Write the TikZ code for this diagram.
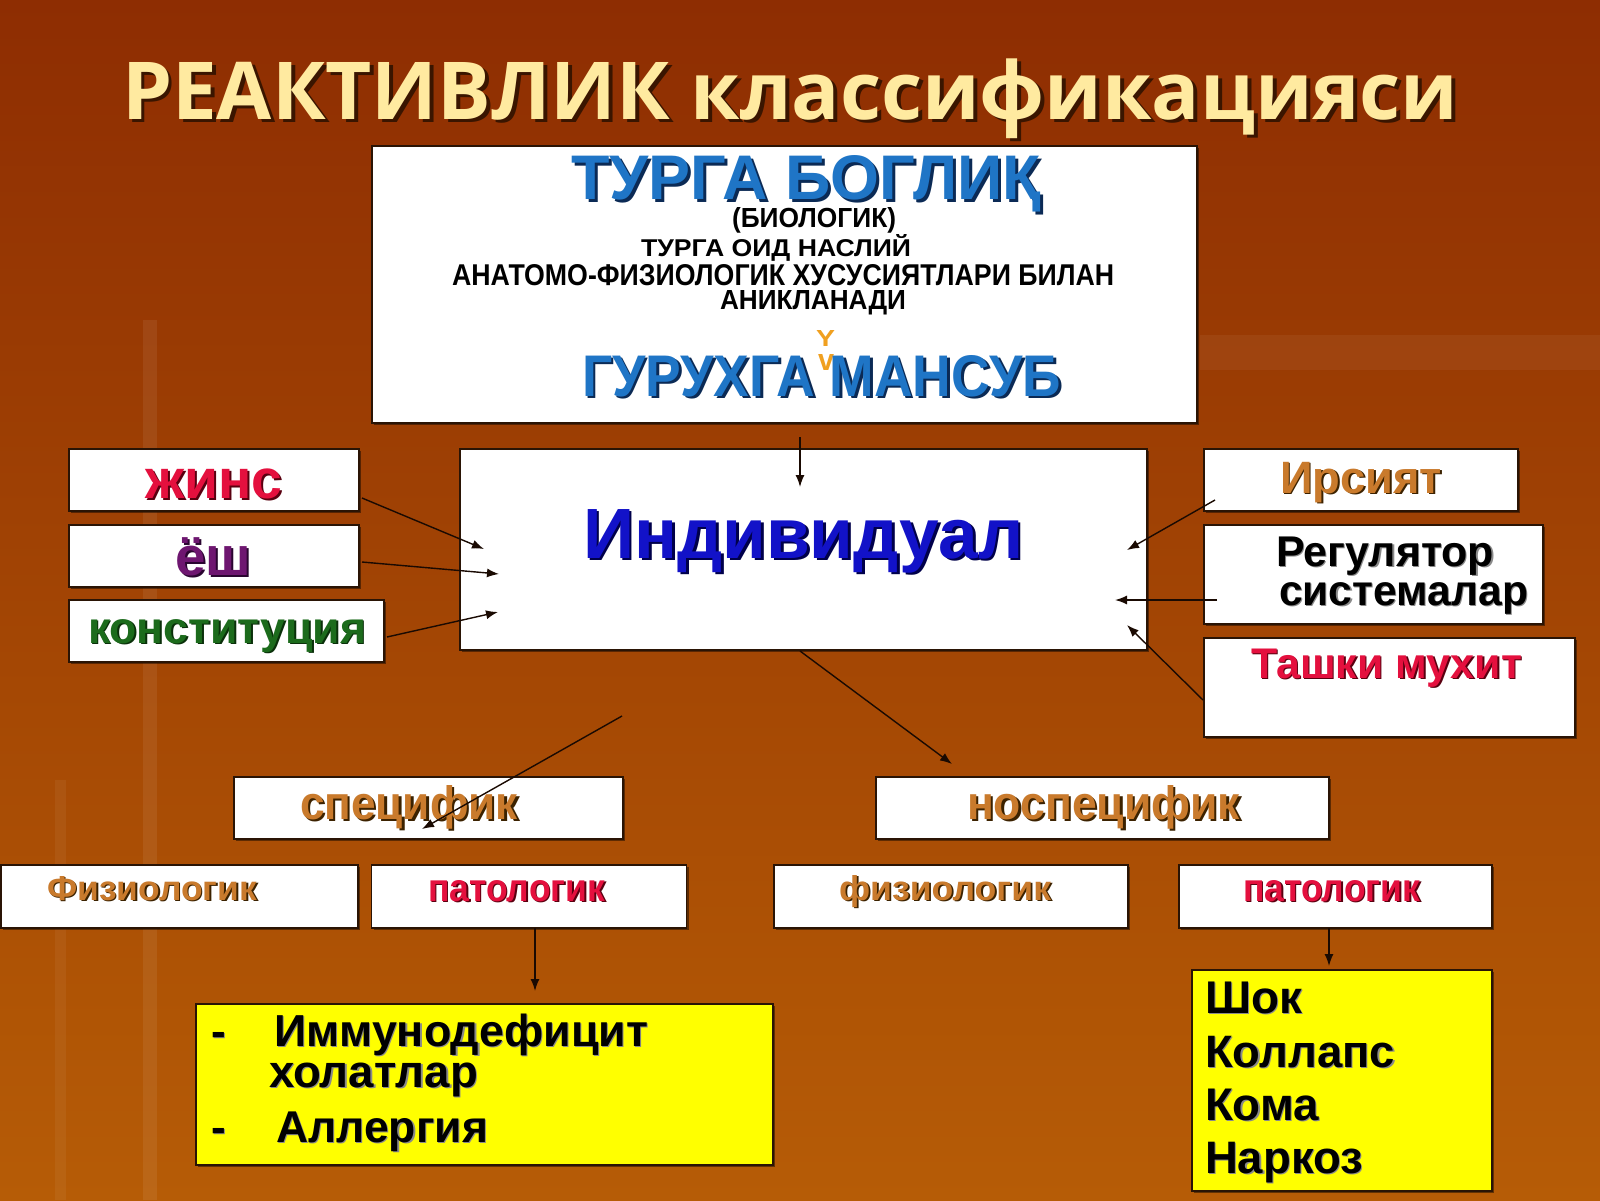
\documentclass[tikz,border=0pt]{standalone}
\usepackage{fontspec}
\usepackage{graphicx}
\setmainfont{Liberation Sans}
\newfontfamily\titlef{Open Sans}
\usetikzlibrary{arrows.meta,shadows}
\definecolor{bgA}{HTML}{8E2D02}
\definecolor{bgB}{HTML}{A94A05}
\definecolor{bgC}{HTML}{B65C06}
\definecolor{cream}{HTML}{FFEAA0}
\definecolor{darksh}{HTML}{3A1500}
\definecolor{blueT}{HTML}{1F75C6}
\definecolor{blueSh}{HTML}{0B2A55}
\definecolor{indBlue}{HTML}{1212C8}
\definecolor{indSh}{HTML}{00004A}
\definecolor{redT}{HTML}{E4103E}
\definecolor{redSh}{HTML}{5A0010}
\definecolor{purpleT}{HTML}{6E1670}
\definecolor{purpleSh}{HTML}{2A0530}
\definecolor{greenT}{HTML}{1C6B1C}
\definecolor{greenSh}{HTML}{0A300A}
\definecolor{orangeT}{HTML}{C97A2C}
\definecolor{orangeSh}{HTML}{3C2200}
\definecolor{graySh}{HTML}{8A8A8A}
\definecolor{boxline}{HTML}{2A1405}
\definecolor{yel}{HTML}{FFFF00}
\definecolor{arrowc}{HTML}{1A0A02}
\definecolor{ysymc}{HTML}{F0A020}
% text with shadow: main colour, shadow colour, offset, text
\newcommand\stx[4]{\rlap{\hspace{#3}\raisebox{-#3}{\textcolor{#2}{#4}}}\textcolor{#1}{#4}}
\newcommand\fitw[2]{\resizebox{#1pt}{!}{#2}}
\newcommand\fitwh[3]{\resizebox{#1pt}{#2pt}{#3}}
\tikzset{
  wbox/.style={draw=boxline, line width=1.6pt, fill=white, inner sep=0pt,
    drop shadow={shadow xshift=2pt, shadow yshift=-2pt, opacity=0.45, fill=black}},
  ybox/.style={wbox, fill=yel},
  lbl/.style={anchor=base west, inner sep=0pt, outer sep=0pt},
  arr/.style={draw=arrowc, line width=1.4pt, -{Latex[length=12pt,width=9pt]}},
}
\begin{document}
\begin{tikzpicture}[x=1pt,y=-1pt]
\useasboundingbox (0,0) rectangle (1600,1200);
\shade[top color=bgA, middle color=bgB, bottom color=bgC] (0,0) rectangle (1600,1200);
\fill[white,opacity=0.07] (143,320) rectangle (157,1200);
\fill[white,opacity=0.05] (55,780) rectangle (66,1200);
\fill[white,opacity=0.05] (1200,335) rectangle (1600,370);

% title
\node[lbl] (title) at (122,119) {\fitw{1336}{\titlef\bfseries\stx{cream}{darksh}{0.05em}{РЕАКТИВЛИК классификацияси}}};

% boxes
\node[wbox, minimum width=825pt, minimum height=277pt] (top) at (784.5,284.5) {};
\node[wbox, minimum width=687pt, minimum height=201pt] (ind) at (803.5,549.5) {};
\node[wbox, minimum width=290pt, minimum height=62pt] (zhins) at (214,480) {};
\node[wbox, minimum width=290pt, minimum height=62pt] (yosh) at (214,556) {};
\node[wbox, minimum width=315pt, minimum height=62pt] (konst) at (226.5,631) {};
\node[wbox, minimum width=314pt, minimum height=62pt] (irs) at (1361,480) {};
\node[wbox, minimum width=339pt, minimum height=99pt] (reg) at (1373.5,574.5) {};
\node[wbox, minimum width=371pt, minimum height=99pt] (tash) at (1389.5,687.5) {};
\node[wbox, minimum width=389pt, minimum height=62pt] (spec) at (428.5,808) {};
\node[wbox, minimum width=453pt, minimum height=62pt] (nospec) at (1102.5,808) {};
\node[wbox, minimum width=357pt, minimum height=63pt] (fizA) at (179.5,896.5) {};
\node[wbox, minimum width=315pt, minimum height=63pt] (patA) at (529,896.5) {};
\node[wbox, minimum width=354pt, minimum height=63pt] (fizB) at (951,896.5) {};
\node[wbox, minimum width=313pt, minimum height=63pt] (patB) at (1335.5,896.5) {};
\node[ybox, minimum width=577pt, minimum height=161pt] (yelA) at (484.5,1084.5) {};
\node[ybox, minimum width=300pt, minimum height=221pt] (yelB) at (1342,1080.5) {};

% top box texts
\node[lbl] (tA) at (571,199) {\fitwh{470}{44}{\bfseries\stx{blueT}{blueSh}{0.05em}{ТУРГА БОГЛИҚ}}};
\node[lbl] (tB) at (732,227) {\fitwh{164}{20}{\bfseries (БИОЛОГИК)}};
\node[lbl] (tC) at (641,256) {\fitwh{270}{22}{\bfseries ТУРГА ОИД НАСЛИЙ}};
\node[lbl] (tD) at (452,285) {\fitwh{662}{21}{\bfseries АНАТОМО-ФИЗИОЛОГИК ХУСУСИЯТЛАРИ БИЛАН}};
\node[lbl] (tE) at (720,309) {\fitwh{186}{19}{\bfseries АНИКЛАНАДИ}};
\node[lbl] (ysA) at (816,346) {\fitwh{19}{16}{\bfseries\textcolor{ysymc}{Y}}};
\node[lbl] (ysB) at (818,370) {\fitwh{16}{16}{\bfseries\textcolor{ysymc}{v}}};
\node[lbl] (tF) at (582,396) {\fitwh{479}{41}{\bfseries\stx{blueT}{blueSh}{0.05em}{ГУРУХГА МАНСУБ}}};

% centre
\node[lbl] (indT) at (583,558) {\fitw{440}{\bfseries\stx{indBlue}{indSh}{0.04em}{Индивидуал}}};

% left factors
\node[lbl] (zhT) at (145,498) {\fitw{137}{\bfseries\stx{redT}{redSh}{0.04em}{жинс}}};
\node[lbl] (yoT) at (175,575) {\fitw{76}{\bfseries\stx{purpleT}{purpleSh}{0.04em}{ёш}}};
\node[lbl] (koT) at (88,643) {\fitw{278}{\bfseries\stx{greenT}{greenSh}{0.04em}{конституция}}};

% right factors
\node[lbl] (irT) at (1280,493) {\fitw{162}{\bfseries\stx{orangeT}{orangeSh}{0.04em}{Ирсият}}};
\node[lbl] (reT) at (1276,566) {\fitw{218}{\bfseries\stx{black}{graySh}{0.03em}{Регулятор}}};
\node[lbl] (reT2) at (1279,605) {\fitw{249}{\bfseries\stx{black}{graySh}{0.03em}{системалар}}};
\node[lbl] (taT) at (1251,678) {\fitw{271}{\bfseries\stx{redT}{redSh}{0.04em}{Ташки мухит}}};

% second level
\node[lbl] (spT) at (300,819) {\fitwh{218}{34}{\bfseries\stx{orangeT}{orangeSh}{0.05em}{специфик}}};
\node[lbl] (nsT) at (967,819) {\fitwh{273}{34}{\bfseries\stx{orangeT}{orangeSh}{0.05em}{носпецифик}}};
\node[lbl] (fzAT) at (47,900) {\fitwh{210}{24}{\bfseries\stx{orangeT}{orangeSh}{0.05em}{Физиологик}}};
\node[lbl] (ptAT) at (428,901) {\fitwh{177}{21}{\bfseries\stx{redT}{redSh}{0.05em}{патологик}}};
\node[lbl] (fzBT) at (839,900) {\fitwh{212}{25}{\bfseries\stx{orangeT}{orangeSh}{0.05em}{физиологик}}};
\node[lbl] (ptBT) at (1243,901) {\fitwh{177}{21}{\bfseries\stx{redT}{redSh}{0.05em}{патологик}}};

% yellow left
\node[lbl] (yA1d) at (211,1046) {\fontsize{44}{44}\selectfont\bfseries\stx{black}{graySh}{0.03em}{-}};
\node[lbl] (yA1) at (274,1046) {\fitw{374}{\bfseries\stx{black}{graySh}{0.03em}{Иммунодефицит}}};
\node[lbl] (yA2) at (269,1087) {\fitw{209}{\bfseries\stx{black}{graySh}{0.03em}{холатлар}}};
\node[lbl] (yA3d) at (211,1142) {\fontsize{44}{44}\selectfont\bfseries\stx{black}{graySh}{0.03em}{-}};
\node[lbl] (yA3) at (276,1142) {\fitw{212}{\bfseries\stx{black}{graySh}{0.03em}{Аллергия}}};

% yellow right
\node[lbl] (yB1) at (1205,1013) {\fitw{97}{\bfseries\stx{black}{graySh}{0.03em}{Шок}}};
\node[lbl] (yB2) at (1205,1067) {\fitw{190}{\bfseries\stx{black}{graySh}{0.03em}{Коллапс}}};
\node[lbl] (yB3) at (1205,1120) {\fitw{114}{\bfseries\stx{black}{graySh}{0.03em}{Кома}}};
\node[lbl] (yB4) at (1205,1173) {\fitw{158}{\bfseries\stx{black}{graySh}{0.03em}{Наркоз}}};

% connector ends
\coordinate (c0s) at (800,437);   \coordinate (c0e) at (800,487);
\coordinate (c1s) at (362,498);   \coordinate (c1e) at (484,549);
\coordinate (c2s) at (362,562);   \coordinate (c2e) at (499,574);
\coordinate (c3s) at (387,637);   \coordinate (c3e) at (498,612);
\coordinate (c4s) at (1215,500);  \coordinate (c4e) at (1127,550);
\coordinate (c5s) at (1217,600);  \coordinate (c5e) at (1115,600);
\coordinate (c6s) at (1203,700);  \coordinate (c6e) at (1127,625);
\coordinate (c7s) at (800,651);   \coordinate (c7e) at (952,764);
\coordinate (c8s) at (622,716);   \coordinate (c8e) at (422,829);
\coordinate (c9s) at (535,928);   \coordinate (c9e) at (535,991);
\coordinate (c10s) at (1329,928); \coordinate (c10e) at (1329,966);

\draw[arr] (c0s) -- (c0e);
\draw[arr] (c1s) -- (c1e);
\draw[arr] (c2s) -- (c2e);
\draw[arr] (c3s) -- (c3e);
\draw[arr] (c4s) -- (c4e);
\draw[arr] (c5s) -- (c5e);
\draw[arr] (c6s) -- (c6e);
\draw[arr] (c7s) -- (c7e);
\draw[arr] (c8s) -- (c8e);
\draw[arr] (c9s) -- (c9e);
\draw[arr] (c10s) -- (c10e);
\end{tikzpicture}
\end{document}
